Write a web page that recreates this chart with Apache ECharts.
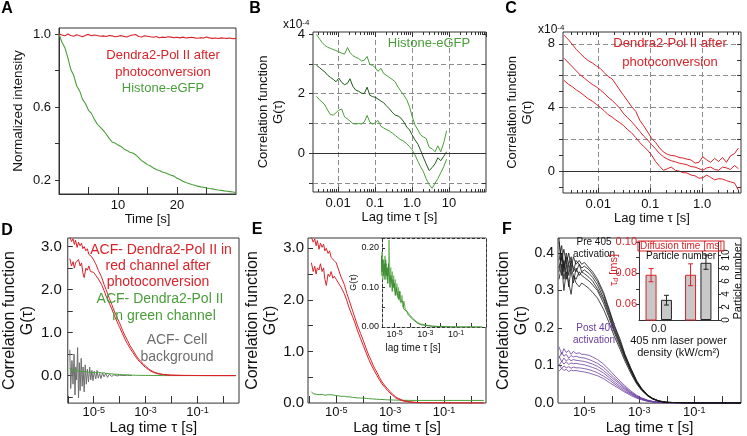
<!DOCTYPE html>
<html><head><meta charset="utf-8">
<script src="https://cdn.jsdelivr.net/npm/echarts@6/dist/echarts.min.js"></script>
<style>html,body{margin:0;padding:0;background:#fff}#c{width:747px;height:436px}</style>
</head><body><div id="c"></div>
<script>
// ================= DATA =================
// Panel A: normalized intensity vs time
const aTime = [0,0.5,1,1.5,2,2.5,3,3.5,4,4.5,5,5.5,6,6.5,7,7.5,8,8.5,9,9.5,10,10.5,11,11.5,12,12.5,13,13.5,14,14.5,15,15.5,16,16.5,17,17.5,18,18.5,19,19.5,20,20.5,21,21.5,22,22.5,23,23.5,24,24.5,25,25.5,26,26.5,27,27.5,28,28.5,29,29.5,30];
const aRed = [1.0,0.995,0.99,1.0,0.992,0.988,0.996,0.99,0.985,0.993,0.998,0.99,0.995,0.992,0.988,0.99,0.986,0.992,0.99,0.985,0.988,0.991,0.987,0.984,0.99,0.995,0.997,0.986,0.984,0.99,0.988,0.985,0.982,0.986,0.98,0.983,0.981,0.985,0.983,0.98,0.982,0.979,0.983,0.978,0.98,0.982,0.979,0.977,0.98,0.978,0.984,0.979,0.976,0.978,0.975,0.979,0.977,0.976,0.978,0.974,0.976];
const aGreen = [1.0,0.955,0.925,0.87,0.805,0.772,0.715,0.688,0.642,0.618,0.582,0.565,0.532,0.505,0.49,0.472,0.452,0.428,0.408,0.402,0.392,0.384,0.37,0.362,0.352,0.348,0.338,0.322,0.306,0.296,0.284,0.276,0.266,0.257,0.252,0.244,0.239,0.233,0.226,0.221,0.209,0.202,0.193,0.186,0.181,0.175,0.171,0.166,0.162,0.16,0.156,0.153,0.151,0.148,0.145,0.143,0.14,0.138,0.136,0.134,0.131];
const aXLabels = [10,20];
const aYLabels = [0.2,0.6,1.0];

// Panel B: Histone-eGFP correlation (x1e-4)
const bTau = [0.0026,0.0031,0.0037,0.0044,0.0052,0.0062,0.0074,0.0088,0.0105,0.0125,0.015,0.018,0.021,0.025,0.03,0.036,0.043,0.051,0.061,0.072,0.086,0.1,0.12,0.145,0.17,0.2,0.24,0.29,0.35,0.42,0.5,0.6,0.72,0.86,1.0,1.2,1.45,1.7,2.0,2.4,2.9,3.5,4.2,5.0,6.0,7.2,8.6];
const bUpper = [3.99,3.85,3.72,3.62,3.56,3.52,3.48,3.45,3.40,3.36,3.33,3.55,3.38,3.28,3.22,3.18,3.10,3.12,3.25,2.98,2.95,2.88,2.75,2.85,2.68,2.62,2.55,2.48,2.40,2.22,2.08,1.95,1.80,1.55,1.25,0.95,0.78,0.62,0.55,0.5,0.2,0.15,0.05,0.25,0.05,0.35,0.75];
const bMiddle = [2.96,2.88,2.8,2.73,2.62,2.55,2.48,2.40,2.52,2.38,2.30,2.35,2.50,2.25,2.12,2.08,2.02,2.0,2.22,1.95,1.9,1.88,1.82,1.75,1.7,1.6,1.5,1.38,1.28,1.25,1.18,1.05,0.88,0.78,0.62,0.45,0.3,0.1,-0.12,-0.35,-0.58,-0.48,-0.35,-0.15,-0.25,-0.1,0.05];
const bLower = [1.91,1.8,1.72,1.62,1.45,1.3,1.28,1.36,1.45,1.48,1.22,1.15,1.08,1.0,0.98,1.0,0.98,1.05,1.27,1.05,0.98,1.02,1.1,0.9,0.85,0.8,0.75,0.68,0.6,0.52,0.45,0.4,0.32,0.22,0.12,-0.05,-0.28,-0.45,-0.6,-0.85,-1.05,-1.18,-1.0,-0.85,-0.65,-0.45,-0.2];
const bXLabels = [0.01,0.1,1,10];
const bXText = ['0.01','0.1','1.0','10'];
const bYLabels = [0,2,4];

// Panel C: Dendra2-Pol II correlation (x1e-4)
const cTau = [0.0022,0.0027,0.0032,0.0038,0.0045,0.0054,0.0064,0.0077,0.0092,0.011,0.013,0.0155,0.0185,0.022,0.026,0.031,0.037,0.044,0.053,0.063,0.075,0.09,0.107,0.127,0.152,0.18,0.215,0.255,0.305,0.36,0.43,0.51,0.61,0.73,0.87,1.03,1.23,1.46,1.74,2.07,2.47,2.94,3.5,4.2,5.0];
const cUpper = [8.55,8.25,7.95,7.65,7.4,7.15,6.95,6.8,6.62,6.45,6.2,5.95,5.8,5.45,5.1,4.75,4.4,4.05,3.75,3.2,2.85,2.45,2.05,1.8,1.45,1.2,1.05,0.98,0.95,0.85,0.82,0.75,0.7,0.5,0.55,0.9,0.7,0.55,0.8,0.6,0.85,0.55,0.95,1.1,1.45];
const cMiddle = [7.1,6.8,6.55,6.3,6.05,5.85,5.65,5.45,5.3,5.1,4.9,4.65,4.45,4.2,3.95,3.6,3.35,3.1,2.8,2.5,2.2,1.95,1.65,1.4,1.1,0.9,0.75,0.65,0.58,0.5,0.45,0.4,0.28,0.25,0.15,0.05,0.2,0.25,0.1,0.05,0.25,0.2,0.1,0.35,0.15];
const cLower = [5.7,5.45,5.3,5.1,4.95,4.75,4.55,4.4,4.2,4.0,3.8,3.55,3.4,3.2,3.05,2.85,2.6,2.4,2.1,1.8,1.55,1.3,1.0,0.6,0.3,0.05,0.15,0.25,0.05,0.0,-0.1,-0.12,-0.25,-0.3,-0.45,-0.42,-0.25,-0.4,-0.55,-0.48,-0.5,-0.6,-0.68,-0.75,-1.2];
const cXLabels = [0.01,0.1,1];
const cXText = ['0.01','0.1','1.0'];
const cYLabels = [0,4,8];

// Panels D and E: ACF curves
const dTau = [1.2e-6,1.4e-6,1.6e-6,1.8e-6,2e-6,2.3e-6,2.6e-6,3e-6,3.4e-6,3.8e-6,4.3e-6,5e-6,5.7e-6,6.5e-6,7.5e-6,8.5e-6,1e-5,1.2e-5,1.5e-5,2e-5,2.5e-5,3e-5,4e-5,5e-5,6e-5,8e-5,1e-4,1.3e-4,1.6e-4,2e-4,2.5e-4,3.2e-4,4e-4,5e-4,6.5e-4,8e-4,1e-3,1.3e-3,1.6e-3,2e-3,3e-3,5e-3,1e-2,3e-2,0.1,0.3,1,3];
const dRedUpper = [3.22,3.12,3.18,3.05,3.15,2.98,3.1,3.02,3.08,2.95,3.0,2.9,2.95,2.82,2.85,2.76,2.72,2.6,2.45,2.3,2.12,2.0,1.8,1.65,1.52,1.35,1.22,1.05,0.93,0.82,0.7,0.6,0.5,0.41,0.33,0.28,0.22,0.16,0.12,0.09,0.05,0.025,0.01,0.004,0.002,0.001,0,0];
const dRedLower = [2.72,2.55,2.65,2.5,2.62,2.58,2.7,2.55,2.62,2.4,2.28,2.5,2.45,2.55,2.42,2.46,2.4,2.33,2.25,2.12,1.98,1.85,1.68,1.55,1.42,1.25,1.12,0.97,0.85,0.74,0.64,0.54,0.45,0.37,0.3,0.24,0.19,0.14,0.1,0.075,0.04,0.02,0.008,0.003,0.001,0,0,0];
const dGreen = [0.17,0.12,0.15,0.1,0.16,0.11,0.14,0.09,0.13,0.1,0.12,0.09,0.11,0.08,0.1,0.08,0.09,0.07,0.08,0.06,0.065,0.05,0.045,0.04,0.035,0.03,0.025,0.02,0.018,0.015,0.012,0.01,0.008,0.006,0.005,0.004,0.003,0.002,0.002,0.001,0.001,0,0,0,0,0,0,0];
const dGrayTau = [1.2e-6,1.3e-6,1.45e-6,1.6e-6,1.75e-6,1.9e-6,2.05e-6,2.2e-6,2.4e-6,2.6e-6,2.8e-6,3.0e-6,3.3e-6,3.6e-6,3.9e-6,4.3e-6,4.7e-6,5.2e-6,5.7e-6,6.3e-6,7e-6,7.7e-6,8.5e-6,9.4e-6,1.05e-5,1.2e-5,1.35e-5,1.5e-5,1.7e-5,1.9e-5,2.2e-5,2.5e-5,2.9e-5,3.4e-5,4e-5,5e-5,6e-5,8e-5,1e-4,1.5e-4,2e-4,3e-4];
const dGray = [0.6,-0.3,0.35,-0.2,0.5,-0.45,0.2,-0.1,0.65,-0.52,0.3,-0.35,0.4,-0.25,0.2,-0.38,0.25,-0.2,0.15,-0.15,0.2,-0.1,0.12,-0.12,0.1,-0.08,0.12,-0.06,0.05,-0.07,0.06,-0.03,0.05,-0.04,0.03,-0.02,0.02,-0.01,0.01,0.0,0.01,0.0];
const eGreen = [0.22,0.18,0.21,0.17,0.2,0.16,0.19,0.17,0.18,0.15,0.17,0.16,0.15,0.16,0.14,0.15,0.15,0.14,0.13,0.13,0.12,0.12,0.11,0.105,0.1,0.097,0.094,0.09,0.085,0.08,0.077,0.073,0.07,0.067,0.064,0.062,0.06,0.058,0.056,0.055,0.053,0.051,0.05,0.05,0.05,0.05,0.05,0.05];
const logXLabels = [1e-5,1e-3,1e-1];
const dYLabels = [0,1,2,3];

// Panel E inset
const insetTau = [1.2e-6,1.35e-6,1.5e-6,1.7e-6,1.9e-6,2.1e-6,2.35e-6,2.6e-6,2.9e-6,3.2e-6,3.6e-6,4e-6,4.3e-6,5e-6,5.6e-6,6.3e-6,7e-6,7.8e-6,8.7e-6,9.7e-6,1.1e-5,1.25e-5,1.4e-5,1.6e-5,1.8e-5,2e-5,2.3e-5,2.6e-5,3e-5,3.5e-5,4e-5,5e-5,6e-5,8e-5,1e-4,1.5e-4,2e-4,3e-4,5e-4,1e-3,3e-3,1e-2,0.1,1,5];
const insetG1 = [0.17,0.13,0.19,0.12,0.17,0.14,0.18,0.13,0.16,0.12,0.15,0.13,0.22,0.12,0.15,0.11,0.14,0.1,0.13,0.09,0.12,0.08,0.11,0.075,0.1,0.07,0.09,0.06,0.08,0.05,0.065,0.045,0.05,0.035,0.03,0.022,0.018,0.012,0.008,0.005,0.002,0.001,0,0,0];
const insetG2 = [0.15,0.18,0.14,0.17,0.13,0.16,0.12,0.17,0.13,0.15,0.11,0.16,0.14,0.1,0.13,0.12,0.09,0.12,0.1,0.11,0.08,0.1,0.09,0.085,0.07,0.09,0.065,0.07,0.06,0.065,0.045,0.05,0.04,0.03,0.025,0.02,0.015,0.01,0.006,0.004,0.002,0.001,0,0,0];
const insetYLabels = [0,0.1,0.2];

// Panel F: pre / post 405 activation curves
const fTau = [1.2e-6,1.5e-6,1.8e-6,2.2e-6,2.7e-6,3.3e-6,4e-6,5e-6,6.5e-6,8e-6,1e-5,1.5e-5,2e-5,3e-5,5e-5,8e-5,1.2e-4,2e-4,3e-4,5e-4,8e-4,1.2e-3,2e-3,3e-3,5e-3,1e-2,0.1,1,5];
const fBlack1 = [0.43,0.38,0.41,0.37,0.40,0.36,0.39,0.37,0.38,0.37,0.375,0.36,0.35,0.33,0.295,0.25,0.21,0.17,0.13,0.092,0.06,0.04,0.022,0.013,0.006,0.002,0,0,0];
const fBlack2 = [0.36,0.40,0.35,0.39,0.34,0.38,0.36,0.35,0.37,0.35,0.355,0.345,0.335,0.315,0.28,0.24,0.2,0.16,0.125,0.087,0.057,0.038,0.021,0.012,0.006,0.002,0,0,0];
const fBlack3 = [0.44,0.34,0.38,0.33,0.37,0.35,0.32,0.36,0.34,0.35,0.345,0.335,0.325,0.305,0.275,0.233,0.196,0.155,0.122,0.085,0.055,0.037,0.02,0.012,0.005,0.002,0,0,0];
const fBlack4 = [0.35,0.39,0.33,0.37,0.31,0.36,0.34,0.33,0.35,0.34,0.335,0.325,0.315,0.3,0.266,0.227,0.19,0.15,0.118,0.083,0.054,0.036,0.02,0.012,0.005,0.002,0,0,0];
const fBlack5 = [0.33,0.37,0.30,0.35,0.32,0.29,0.34,0.32,0.31,0.32,0.315,0.305,0.295,0.28,0.25,0.214,0.18,0.143,0.112,0.078,0.051,0.034,0.019,0.011,0.005,0.002,0,0,0];
const fBlack6 = [0.38,0.42,0.36,0.40,0.37,0.39,0.35,0.38,0.37,0.36,0.365,0.355,0.343,0.324,0.289,0.246,0.207,0.164,0.129,0.09,0.058,0.039,0.021,0.013,0.006,0.002,0,0,0];
const fPurple1 = [0.15,0.13,0.145,0.135,0.14,0.13,0.138,0.132,0.134,0.13,0.13,0.127,0.123,0.116,0.104,0.089,0.075,0.059,0.046,0.032,0.021,0.014,0.008,0.005,0.002,0.001,0,0,0];
const fPurple2 = [0.12,0.135,0.125,0.13,0.12,0.127,0.123,0.125,0.122,0.121,0.12,0.116,0.112,0.106,0.095,0.081,0.068,0.054,0.042,0.029,0.019,0.013,0.007,0.004,0.002,0.001,0,0,0];
const fPurple3 = [0.125,0.11,0.12,0.112,0.118,0.113,0.116,0.114,0.113,0.112,0.111,0.107,0.104,0.098,0.087,0.074,0.063,0.05,0.039,0.027,0.018,0.012,0.006,0.004,0.002,0.001,0,0,0];
const fPurple4 = [0.1,0.112,0.104,0.11,0.103,0.107,0.105,0.106,0.104,0.103,0.102,0.098,0.095,0.09,0.08,0.068,0.057,0.045,0.036,0.025,0.016,0.011,0.006,0.004,0.002,0.001,0,0,0];
const fPurple5 = [0.102,0.092,0.099,0.094,0.097,0.093,0.096,0.094,0.094,0.093,0.092,0.089,0.086,0.081,0.072,0.062,0.052,0.041,0.032,0.023,0.015,0.01,0.005,0.003,0.001,0.001,0,0,0];
const fPurple6 = [0.085,0.093,0.087,0.09,0.084,0.088,0.086,0.087,0.085,0.084,0.083,0.08,0.077,0.073,0.065,0.055,0.047,0.037,0.029,0.02,0.013,0.009,0.005,0.003,0.001,0.001,0,0,0];
const fYLabels = [0,0.1,0.2,0.3,0.4];

// Panel F inset bars
const fCats = ['0.0','0.05'];
const fDiffTime = [0.079,0.079];
const fDiffLow = [0.0745,0.072];
const fDiffHigh = [0.083,0.086];
const fPartNum = [3.1,8.8];
const fPartLow = [2.3,7.8];
const fPartHigh = [3.8,10.0];
const fInsetLeftLabels = [0.06,0.08,0.10];
const fInsetRightLabels = [0,2,4,6,8,10];

// ================= STYLE / HELPERS =================
const FONT = 'Liberation Sans, Arial, Helvetica, sans-serif';
const AX = '#333';
const RED = '#d8232a', GREEN = '#4a9e3a', DKGREEN = '#1f5a19', GRAY = '#6e6e6e', PURPLE = '#6a3d9e', BLACK = '#151515';
const DASH = {show:true, lineStyle:{type:[5,3], color:'#8c8c8c', width:1}};

const grids=[], xAxes=[], yAxes=[], series=[], graphics=[];
function addGrid(l,t,w,h,extra){grids.push(Object.assign({left:l,top:t,width:w,height:h,show:true,borderColor:AX,borderWidth:1,backgroundColor:'rgba(0,0,0,0)'},extra||{}));return grids.length-1;}
function ax(list,g,type,min,max,pos,o){
  const base={gridIndex:g,type:type,min:min,max:max,position:pos,axisLine:{show:false,onZero:false},axisTick:{show:false},axisLabel:{show:false},splitLine:{show:false},axisPointer:{show:false},silent:true};
  if(type==='log') base.logBase=10;
  list.push(Object.assign(base,o||{}));return list.length-1;
}
function ticks(vals,len,inside,color){return {show:true,customValues:vals,length:len,inside:inside,lineStyle:{color:color||AX,width:1}};}
function hiddenTicks(vals){return {show:true,customValues:vals,length:0,lineStyle:{color:'rgba(0,0,0,0)',width:0}};}
function labels(vals,fmt,size,margin,extra){return Object.assign({show:true,customValues:vals,formatter:fmt,fontSize:size,margin:margin,color:'#111',fontFamily:FONT},extra||{});}
function logMinor(min,max){const out=[];for(let e=-7;e<=2;e++){for(let k=2;k<=9;k++){const v=+(k*Math.pow(10,e)).toPrecision(3);if(v>min&&v<max)out.push(v);}}return out;}
function logMajor(min,max){const out=[];for(let e=-7;e<=2;e++){const v=+Math.pow(10,e).toPrecision(3);if(v>=min*0.999&&v<=max*1.001)out.push(v);}return out;}
function line(xi,yi,xs,ys,color,w,z){series.push({type:'line',xAxisIndex:xi,yAxisIndex:yi,data:xs.map((v,i)=>[v,ys[i]]),showSymbol:false,symbol:'none',lineStyle:{color:color,width:w||1},itemStyle:{color:color},silent:true,animation:false,clip:true,z:z||2});return series.length-1;}
function zeroLine(si){series[si].markLine={silent:true,symbol:'none',animation:false,label:{show:false},lineStyle:{type:'solid',color:AX,width:1},data:[{yAxis:0}]};}
function txt(x,y,text,color,size,o){o=o||{};graphics.push({type:'text',x:x,y:y,z:100,silent:true,rotation:o.rotation||0,style:Object.assign({text:text,fill:color,font:(o.bold?'bold ':'')+size+'px '+FONT,align:o.align||'center',verticalAlign:'middle',textAlign:o.align||'center',textVerticalAlign:'middle'},o.style||{})});}
const supRich = (b,s)=>({b:{fontSize:b,fontFamily:FONT,color:'#111'},s:{fontSize:s,fontFamily:FONT,color:'#111',verticalAlign:'top'}});
const supFmt = v=>'{b|10}{s|'+Math.round(Math.log10(v))+'}';
const YNAME = 'Correlation function\nG(\u03c4)';
const XNAME = 'Lag time \u03c4 [s]';

// ================= PANEL A =================
const gA = addGrid(59,28,177,166);
const xA = ax(xAxes,gA,'value',0,30,'bottom',{axisLine:{show:true,onZero:false,lineStyle:{color:AX}},axisTick:ticks([5,10,15,20,25],7,true),axisLabel:labels(aXLabels,v=>String(v),13,5),name:'Time [s]',nameLocation:'middle',nameGap:17,nameTextStyle:{fontSize:13,fontFamily:FONT,color:'#111',verticalAlign:'top'}});
const yA = ax(yAxes,gA,'value',0.123,1.033,'left',{axisLine:{show:true,onZero:false,lineStyle:{color:AX}},axisTick:ticks([0.2,0.4,0.6,0.8,1.0],4,false),axisLabel:labels(aYLabels,v=>v.toFixed(1),13,8),name:'Normalized intensity',nameLocation:'middle',nameGap:34,nameTextStyle:{fontSize:13.5,fontFamily:FONT,color:'#111'}});
line(xA,yA,aTime,aGreen,GREEN,1.1,2);
line(xA,yA,aTime,aRed,RED,1.1,3);
txt(163,55,'Dendra2-Pol II after',RED,13);
txt(163,72,'photoconversion',RED,13);
txt(163,88,'Histone-eGFP',GREEN,13);

// ================= PANEL B =================
const bMin=0.0021,bMax=100;
const gB = addGrid(313,32,173,160);
const fmtB = v=>bXText[bXLabels.findIndex(t=>Math.abs(Math.log10(t)-Math.log10(v))<0.01)];
const xB = ax(xAxes,gB,'log',bMin,bMax,'bottom',{axisTick:ticks(bXLabels,5,true),axisLabel:labels(bXLabels,fmtB,13,5),splitLine:DASH,name:XNAME,nameLocation:'middle',nameGap:19,nameTextStyle:{fontSize:13,fontFamily:FONT,color:'#111',verticalAlign:'top'}});
ax(xAxes,gB,'log',bMin,bMax,'bottom',{axisTick:ticks(logMinor(bMin,bMax),3,true)});
ax(xAxes,gB,'log',bMin,bMax,'top',{axisTick:ticks(logMajor(bMin,bMax),5,true)});
ax(xAxes,gB,'log',bMin,bMax,'top',{axisTick:ticks(logMinor(bMin,bMax),3,true)});
const yB = ax(yAxes,gB,'value',-1.3,4.07,'left',{axisTick:ticks([-1,0,1,2,3,4],4,false),axisLabel:labels(bYLabels,v=>String(v),13,8),name:YNAME,nameLocation:'middle',nameGap:27,nameTextStyle:{fontSize:13,lineHeight:15,fontFamily:FONT,color:'#111'}});
ax(yAxes,gB,'value',-1.3,4.07,'left',{axisTick:hiddenTicks([-1,1,2,3]),splitLine:DASH});
ax(yAxes,gB,'value',-1.3,4.07,'right',{axisTick:ticks([-1,0,1,2,3,4],4,true)});
zeroLine(line(xB,yB,bTau,bLower,GREEN,1,2));
line(xB,yB,bTau,bUpper,GREEN,1,2);
line(xB,yB,bTau,bMiddle,DKGREEN,1,3);
txt(429,43,'Histone-eGFP',GREEN,13);
graphics.push({type:'text',x:283,y:25,z:100,silent:true,style:{text:'x10{s|-4}',fill:'#111',font:'12px '+FONT,align:'left',verticalAlign:'middle',textAlign:'left',textVerticalAlign:'middle',rich:{s:{fontSize:8,fontFamily:FONT,fill:'#111',verticalAlign:'top'}}}});

// ================= PANEL C =================
const cMin=0.0021,cMax=5.6;
const gC = addGrid(563,32,178,161);
const fmtC = v=>cXText[cXLabels.findIndex(t=>Math.abs(Math.log10(t)-Math.log10(v))<0.01)];
const xC = ax(xAxes,gC,'log',cMin,cMax,'bottom',{axisTick:ticks(cXLabels,5,true),axisLabel:labels(cXLabels,fmtC,13,5),splitLine:DASH,name:XNAME,nameLocation:'middle',nameGap:18,nameTextStyle:{fontSize:13,fontFamily:FONT,color:'#111',verticalAlign:'top'}});
ax(xAxes,gC,'log',cMin,cMax,'bottom',{axisTick:ticks(logMinor(cMin,cMax),3,true)});
ax(xAxes,gC,'log',cMin,cMax,'top',{axisTick:ticks(logMajor(cMin,cMax),5,true)});
ax(xAxes,gC,'log',cMin,cMax,'top',{axisTick:ticks(logMinor(cMin,cMax),3,true)});
const yC = ax(yAxes,gC,'value',-1.38,8.75,'left',{axisTick:ticks([-1,0,1,2,3,4,5,6,7,8],4,false),axisLabel:labels(cYLabels,v=>String(v),13,8),name:YNAME,nameLocation:'middle',nameGap:28,nameTextStyle:{fontSize:13,lineHeight:15,fontFamily:FONT,color:'#111'}});
ax(yAxes,gC,'value',-1.38,8.75,'left',{axisTick:hiddenTicks([2,4,6,8]),splitLine:DASH});
ax(yAxes,gC,'value',-1.38,8.75,'right',{axisTick:ticks([-1,0,1,2,3,4,5,6,7,8],4,true)});
zeroLine(line(xC,yC,cTau,cLower,RED,1,2));
line(xC,yC,cTau,cMiddle,RED,1,2);
line(xC,yC,cTau,cUpper,RED,1,2);
txt(670,43,'Dendra2-Pol II after',RED,13);
txt(670,62,'photoconversion',RED,13);
graphics.push({type:'text',x:538,y:30,z:100,silent:true,style:{text:'x10{s|-4}',fill:'#111',font:'12px '+FONT,align:'left',verticalAlign:'middle',textAlign:'left',textVerticalAlign:'middle',rich:{s:{fontSize:8,fontFamily:FONT,fill:'#111',verticalAlign:'top'}}}});

// ================= PANEL D =================
const dMin=1e-6,dMax=4;
const gD = addGrid(59,238,180,168);
const bottomName = {name:XNAME,nameLocation:'middle',nameGap:16,nameTextStyle:{fontSize:15,fontFamily:FONT,color:'#111',verticalAlign:'top'}};
const leftName = gap=>({name:YNAME,nameLocation:'middle',nameGap:gap,nameTextStyle:{fontSize:16,lineHeight:18,fontFamily:FONT,color:'#111'}});
const xD = ax(xAxes,gD,'log',dMin,dMax,'bottom',Object.assign({axisTick:ticks(logMajor(dMin,dMax),7,true),axisLabel:labels(logXLabels,supFmt,13,3,{rich:supRich(13,9)})},bottomName));
const yD = ax(yAxes,gD,'value',-0.64,3.2,'left',Object.assign({axisTick:ticks([-0.5,0,0.5,1,1.5,2,2.5,3],5,true),axisLabel:labels(dYLabels,v=>v.toFixed(1),15,6)},leftName(20)));
line(xD,yD,dGrayTau,dGray,GRAY,1,2);
line(xD,yD,dTau,dGreen,GREEN,1,3);
line(xD,yD,dTau,dRedLower,RED,1,4);
line(xD,yD,dTau,dRedUpper,RED,1,4);
txt(161,250,'ACF- Dendra2-Pol II in',RED,14);
txt(158,266,'red channel after',RED,14);
txt(158,282,'photoconversion',RED,14);
txt(160,299,'ACF- Dendra2-Pol II',GREEN,14);
txt(164,316,'in green channel',GREEN,14);
txt(177,340,'ACF- Cell',GRAY,14);
txt(177,357,'background',GRAY,14);

// ================= PANEL E =================
const eMin=9e-7,eMax=3.6;
const gE = addGrid(308,238,178,165);
const xE = ax(xAxes,gE,'log',eMin,eMax,'bottom',Object.assign({axisTick:ticks(logMajor(eMin,eMax),7,true),axisLabel:labels(logXLabels,supFmt,13,3,{rich:supRich(13,9)})},bottomName));
const yE = ax(yAxes,gE,'value',0,3.2,'left',Object.assign({axisTick:ticks([0.5,1,1.5,2,2.5,3],5,true),axisLabel:labels(dYLabels,v=>v.toFixed(1),15,4)},leftName(22)));
line(xE,yE,dTau,eGreen,GREEN,1,3);
line(xE,yE,dTau,dRedLower,RED,1,4);
line(xE,yE,dTau,dRedUpper,RED,1,4);

// E inset
const iMin=1.5e-6,iMax=9;
const gI = addGrid(382,238,104,89,{borderWidth:0,backgroundColor:'#fff',z:5});
const dashAxis = {show:true,onZero:false,lineStyle:{color:AX,type:[3,2],width:1}};
const xI = ax(xAxes,gI,'log',iMin,iMax,'bottom',{z:6,axisLine:dashAxis,axisTick:ticks(logMajor(iMin,iMax),4,true),axisLabel:labels(logXLabels,supFmt,9,3,{rich:supRich(9,7)})});
ax(xAxes,gI,'log',iMin,iMax,'top',{z:6,axisLine:dashAxis});
const yI = ax(yAxes,gI,'value',0,0.225,'left',{z:6,axisLine:dashAxis,axisTick:ticks([0.05,0.1,0.15,0.2],3,true),axisLabel:labels(insetYLabels,v=>v.toFixed(2),9,3),name:'G(\u03c4)',nameLocation:'middle',nameGap:24,nameTextStyle:{fontSize:9,fontFamily:FONT,color:'#111'}});
ax(yAxes,gI,'value',0,0.225,'right',{z:6,axisLine:dashAxis});
line(xI,yI,insetTau,insetG1,'#74b862',1,10);
line(xI,yI,insetTau,insetG2,'#3d8c34',1,10);
txt(413,348,'lag time \u03c4 [s]','#111',10);

// ================= PANEL F =================
const fMin=1.1e-6,fMax=5;
const gF = addGrid(558,238,183,166);
const xF = ax(xAxes,gF,'log',fMin,fMax,'bottom',Object.assign({axisTick:ticks(logMajor(fMin,fMax),7,true),axisLabel:labels(logXLabels,supFmt,13,3,{rich:supRich(13,9)})},bottomName));
const yF = ax(yAxes,gF,'value',0,0.44,'left',Object.assign({axisTick:ticks([0.1,0.2,0.3,0.4],4,true),axisLabel:labels(fYLabels,v=>v.toFixed(1),14,4)},leftName(20)));
[fPurple1,fPurple2,fPurple3,fPurple4,fPurple5,fPurple6].forEach(d=>line(xF,yF,fTau,d,PURPLE,0.8,2));
[fBlack1,fBlack2,fBlack3,fBlack4,fBlack5,fBlack6].forEach(d=>line(xF,yF,fTau,d,BLACK,0.8,3));
txt(594,242,'Pre 405',BLACK,10);
txt(594,254,'activation',BLACK,10);
txt(596,328,'Post 405',PURPLE,10);
txt(594,340,'activation',PURPLE,10);

// F inset (bars)
const gFi = addGrid(639,242,79,78,{borderWidth:0});
const fiAxisLine = {show:true,onZero:false,lineStyle:{color:AX}};
const xFi = ax(xAxes,gFi,'category',null,null,'bottom',{data:fCats,axisLine:fiAxisLine,axisTick:{show:false},axisLabel:{show:true,fontSize:11,margin:3,fontFamily:FONT,formatter:(v,i)=>i===0?'{k|'+v+'}':'{p|'+v+'}',rich:{k:{color:'#111',fontSize:11,fontFamily:FONT},p:{color:PURPLE,fontSize:11,fontFamily:FONT}}},name:'405 nm laser power\ndensity (kW/cm\u00b2)',nameLocation:'middle',nameGap:15,nameTextStyle:{fontSize:11,lineHeight:12,fontFamily:FONT,color:'#111',verticalAlign:'top'}});
delete xAxes[xFi].min; delete xAxes[xFi].max;
const yFiL = ax(yAxes,gFi,'value',0.05,0.10,'left',{axisLine:fiAxisLine,axisTick:ticks([0.06,0.07,0.08,0.09,0.10],3,false),axisLabel:labels(fInsetLeftLabels,v=>v.toFixed(2),11,2,{color:RED})});
const yFiR = ax(yAxes,gFi,'value',0,12,'right',{axisLine:fiAxisLine,axisTick:ticks(fInsetRightLabels,3,false),axisLabel:labels(fInsetRightLabels,v=>String(v),10,3,{rotate:90}),name:'Particle number',nameLocation:'middle',nameGap:14,nameRotate:90,nameTextStyle:{fontSize:11,fontFamily:FONT,color:'#111'}});
series.push({type:'bar',xAxisIndex:xFi,yAxisIndex:yFiL,data:fDiffTime,barWidth:11,barGap:'40%',clip:true,silent:true,itemStyle:{color:'#c8c8c8',borderColor:RED,borderWidth:1},z:3});
series.push({type:'bar',xAxisIndex:xFi,yAxisIndex:yFiR,data:fPartNum,barWidth:11,barGap:'40%',clip:true,silent:true,itemStyle:{color:'#c8c8c8',borderColor:'#222',borderWidth:1},z:3});
function errBars(yi,low,high,off,color){
  series.push({type:'custom',xAxisIndex:xFi,yAxisIndex:yi,silent:true,z:6,data:low.map((l,i)=>[i,l,high[i]]),
    renderItem:(p,api)=>{const a=api.coord([api.value(0),api.value(1)]),b=api.coord([api.value(0),api.value(2)]);const x=a[0]+off,c=2.5;
      const st={stroke:color,lineWidth:1};
      return {type:'group',children:[{type:'line',shape:{x1:x,y1:a[1],x2:x,y2:b[1]},style:st},{type:'line',shape:{x1:x-c,y1:a[1],x2:x+c,y2:a[1]},style:st},{type:'line',shape:{x1:x-c,y1:b[1],x2:x+c,y2:b[1]},style:st}]};}});
}
errBars(yFiL,fDiffLow,fDiffHigh,-7.7,RED);
errBars(yFiR,fPartLow,fPartHigh,7.7,'#222');
graphics.push({type:'text',x:681,y:246,z:100,silent:true,style:{text:'Diffusion time [ms]',fill:RED,font:'10px '+FONT,align:'center',verticalAlign:'middle',textAlign:'center',textVerticalAlign:'middle',borderColor:RED,borderWidth:1,padding:[0,2]}});
txt(646,256,'Particle number','#111',10,{align:'left'});
graphics.push({type:'text',x:614,y:270,rotation:Math.PI/2,z:100,silent:true,style:{text:'\u03c4{d|d} [ms]',fill:RED,font:'11px '+FONT,align:'center',verticalAlign:'middle',textAlign:'center',textVerticalAlign:'middle',rich:{d:{fontSize:7,fontFamily:FONT,fill:RED,verticalAlign:'bottom'}}}});

// Panel letters
txt(7,9,'A','#000',16,{bold:true});
txt(255,9,'B','#000',16,{bold:true});
txt(511,9,'C','#000',16,{bold:true});
txt(7,231,'D','#000',16,{bold:true});
txt(257,230,'E','#000',16,{bold:true});
txt(507,230,'F','#000',16,{bold:true});

const chart = echarts.init(document.getElementById('c'),null,{renderer:'canvas'});
chart.setOption({animation:false,backgroundColor:'#fff',textStyle:{fontFamily:FONT},grid:grids,xAxis:xAxes,yAxis:yAxes,series:series,graphic:graphics});
</script></body></html>
